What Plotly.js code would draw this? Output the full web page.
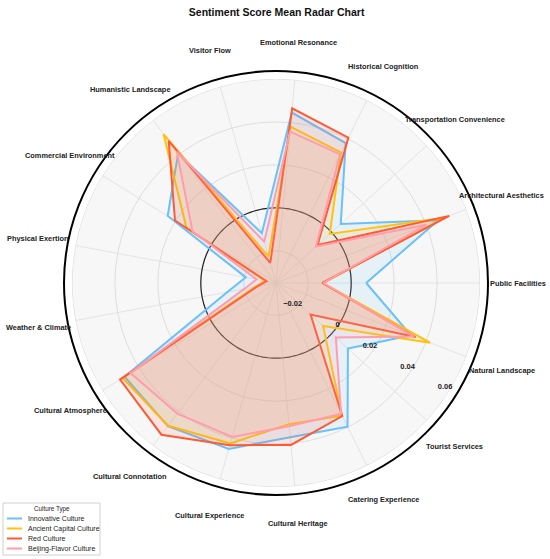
<!DOCTYPE html>
<html>
<head>
<meta charset="utf-8">
<script src="https://cdn.plot.ly/plotly-3.0.1.min.js"></script>
<style>
  html, body { margin: 0; padding: 0; background: #fff; }
  #chart { width: 550px; height: 559px; }
</style>
</head>
<body>
<div id="chart"></div>
<script>
// categories, counterclockwise starting at 3 o'clock
const categories = [
  'Public Facilities', 'Architectural Aesthetics', 'Transportation Convenience',
  'Historical Cognition', 'Emotional Resonance', 'Visitor Flow',
  'Humanistic Landscape', 'Commercial Environment', 'Physical Exertion',
  'Weather & Climate', 'Cultural Atmosphere', 'Cultural Connotation',
  'Cultural Experience', 'Cultural Heritage', 'Catering Experience',
  'Tourist Services', 'Natural Landscape'
];

const innovative = [0.0070, 0.0460, 0.0058, 0.0378, 0.0447, -0.0109, 0.0406, 0.0243, -0.0207,
  -0.0120, 0.0479, 0.0485, 0.0453, 0.0371, 0.0397, 0.0103, 0.0324];
const ancientCapital = [-0.0130, 0.0490, -0.0011, 0.0329, 0.0381, -0.0222, 0.0519, 0.0141, -0.0298,
  -0.0250, 0.0490, 0.0483, 0.0427, 0.0310, 0.0340, -0.0053, 0.0419];
const redCulture = [-0.0135, 0.0515, -0.0088, 0.0406, 0.0467, -0.0253, 0.0479, 0.0203, -0.0305,
  -0.0260, 0.0504, 0.0535, 0.0435, 0.0407, 0.0342, -0.0132, 0.0347];
const beijingFlavor = [-0.0130, 0.0400, -0.0098, 0.0319, 0.0358, -0.0150, 0.0416, 0.0107, -0.0258,
  -0.0200, 0.0447, 0.0412, 0.0395, 0.0320, 0.0330, 0.0027, 0.0340];

const seriesNames = ['Innovative Culture', 'Ancient Capital Culture', 'Red Culture', 'Beijing-Flavor Culture'];
const seriesValues = [innovative, ancientCapital, redCulture, beijingFlavor];
const seriesColors = ['#6AC0F7', '#FFC20E', '#FF5A36', '#FF9DAE'];
const seriesFills = ['rgba(106,192,247,0.12)', 'rgba(255,194,14,0.12)', 'rgba(255,90,54,0.12)', 'rgba(255,157,174,0.12)'];

const radialTicks = [-0.02, 0, 0.02, 0.04, 0.06];
const radialText = ['\u22120.02', '0', '0.02', '0.04', '0.06'];
const radialRange = [-0.035, 0.0637];

// page geometry
const W = 550, H = 559;
const M = {l: 64, r: 62, t: 71, b: 64};
const plotW = W - M.l - M.r, plotH = H - M.t - M.b;
const labelRadius = 242; // px from centre, category labels

// evenly spaced angles for the categories (degrees)
const angles = categories.map((c, i) => i * 360 / categories.length);

function closeLoop(arr) {
  return arr.concat([arr[0]]);
}
function px(x) { return (x - M.l) / plotW; }
function py(y) { return (H - M.b - y) / plotH; }

// helper circles (white outer ring and the zero line)
let circTheta = [];
for (let a = 0; a <= 360; a += 2) circTheta.push(a);
const gridMax = radialTicks[radialTicks.length - 1];
const ringTheta = circTheta.concat(circTheta.slice().reverse());
const ringR = circTheta.map(() => radialRange[1]).concat(circTheta.map(() => gridMax));

let traces = [];
traces.push({
  type: 'scatterpolar', mode: 'lines', theta: ringTheta, r: ringR,
  fill: 'toself', fillcolor: '#ffffff', line: {width: 0, color: 'rgba(0,0,0,0)'},
  showlegend: false, hoverinfo: 'skip'
});
traces.push({
  type: 'scatterpolar', mode: 'lines', theta: circTheta, r: circTheta.map(() => 0),
  line: {color: '#222222', width: 1.2}, showlegend: false, hoverinfo: 'skip'
});

for (let k = 0; k < seriesNames.length; k++) {
  traces.push({
    type: 'scatterpolar',
    mode: 'lines',
    name: seriesNames[k],
    theta: closeLoop(angles),
    r: closeLoop(seriesValues[k]),
    fill: 'toself',
    fillcolor: seriesFills[k],
    line: {color: seriesColors[k], width: 2},
    showlegend: false
  });
}

// category labels, centred outside the rim like matplotlib does
let annotations = categories.map((c, i) => {
  let a = angles[i] * Math.PI / 180;
  return {
    text: c, showarrow: false, xref: 'paper', yref: 'paper',
    x: 0.5 + labelRadius / plotW * Math.cos(a),
    y: 0.5 + labelRadius / plotH * Math.sin(a),
    xanchor: 'center', yanchor: 'middle',
    font: {size: 7.4, weight: 'bold', color: '#222'}
  };
});

// compact legend box
let shapes = [{
  type: 'rect', xref: 'paper', yref: 'paper',
  x0: px(3), x1: px(100), y0: py(555), y1: py(503),
  line: {color: '#d0d0d0', width: 1}, fillcolor: '#ffffff'
}];
annotations.push({
  text: 'Culture Type', showarrow: false, xref: 'paper', yref: 'paper',
  x: px(52), y: py(509), xanchor: 'center', yanchor: 'middle',
  font: {size: 6.3, color: '#222'}
});
seriesNames.forEach((name, k) => {
  let yy = 518.5 + k * 10;
  shapes.push({
    type: 'line', xref: 'paper', yref: 'paper',
    x0: px(7), x1: px(22), y0: py(yy), y1: py(yy),
    line: {color: seriesColors[k], width: 2}
  });
  annotations.push({
    text: name, showarrow: false, xref: 'paper', yref: 'paper',
    x: px(26), y: py(yy), xanchor: 'left', yanchor: 'middle',
    font: {size: 7, color: '#222'}
  });
});

const layout = {
  width: W,
  height: H,
  margin: {l: M.l, r: M.r, t: M.t, b: M.b, autoexpand: false},
  paper_bgcolor: '#ffffff',
  font: {family: 'Liberation Sans, Arial, sans-serif', color: '#222'},
  title: {
    text: 'Sentiment Score Mean Radar Chart',
    font: {size: 10.5, weight: 'bold', color: '#111'},
    x: 0.503, xref: 'container', y: 0.978, yref: 'container', yanchor: 'middle'
  },
  showlegend: false,
  annotations: annotations,
  shapes: shapes,
  polar: {
    bgcolor: '#f7f7f7',
    domain: {x: [0, 1], y: [0, 1]},
    radialaxis: {
      range: radialRange,
      tickmode: 'array',
      tickvals: radialTicks,
      ticktext: radialText,
      angle: -29,
      tickangle: -29,
      showline: false,
      ticks: '',
      gridcolor: '#dedede',
      gridwidth: 1,
      tickfont: {size: 7.5, weight: 'bold', color: '#222'}
    },
    angularaxis: {
      thetaunit: 'degrees',
      rotation: 0,
      direction: 'counterclockwise',
      tickmode: 'array',
      tickvals: angles,
      ticktext: categories,
      showticklabels: false,
      ticks: '',
      showline: true,
      linecolor: '#000000',
      linewidth: 2,
      gridcolor: '#e3e3e3',
      gridwidth: 1
    }
  }
};

Plotly.newPlot('chart', traces, layout, {displayModeBar: false, staticPlot: true});
</script>
</body>
</html>
